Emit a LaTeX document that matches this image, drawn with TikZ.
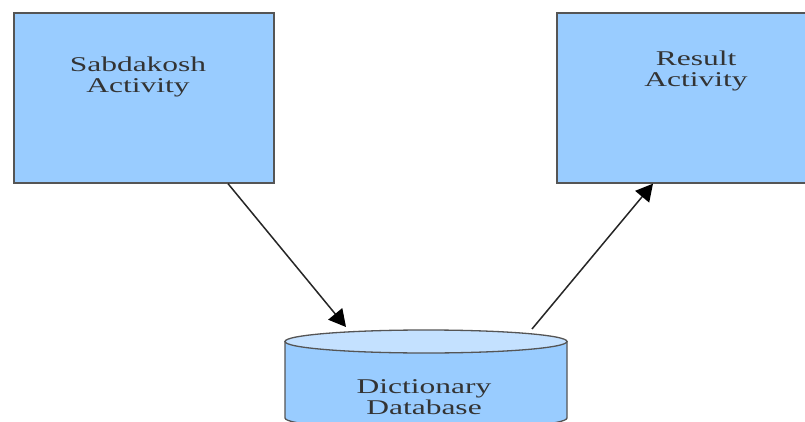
\documentclass[tikz,border=0pt]{standalone}
\usepackage{fontspec}
\usetikzlibrary{arrows.meta}
\newfontfamily\boxfont[FakeStretch=1.5]{Liberation Serif}
\definecolor{boxblue}{HTML}{99CCFF}
\definecolor{capblue}{HTML}{C4E1FF}
\definecolor{edgegray}{HTML}{555555}
\definecolor{textgray}{HTML}{333333}
\tikzset{
    actbox/.style={draw=edgegray, line width=1.3pt, fill=boxblue, minimum width=260pt, minimum height=170pt},
    dbpart/.style={draw=edgegray, line width=1.3pt, fill=boxblue},
    lbl/.style={font=\boxfont\fontsize{21}{21.5}\selectfont, text=textgray, align=center, inner sep=0pt},
    flow/.style={draw=black!85, line width=1.5pt, -{Triangle[length=17pt,width=18pt,color=black]}}
}
\begin{document}
\begin{tikzpicture}[x=1pt,y=1pt]
        \clip (0,0) rectangle (805,421);
        \fill[white] (0,0) rectangle (805,421);

        \node[actbox] (sab) at (144,323) {};
        \node[lbl] (sabtxt) at (138,344) {Sabdakosh\\Activity};

        \node[actbox] (res) at (687,323) {};
        \node[lbl] (restxt) at (696,350) {Result\\Activity};

        \filldraw[dbpart] (285,79.5) -- (285,3) arc[start angle=180, end angle=360, x radius=141, y radius=11.5] -- (567,79.5) -- cycle;
        \filldraw[dbpart, fill=capblue] (426,79.5) ellipse[x radius=141, y radius=11.5];
        \coordinate (dbtop) at (426,91);
        \node[lbl] (db) at (424,24) {Dictionary\\Database};

        \draw[flow] ([xshift=84pt]sab.south) -- ([xshift=-80pt,yshift=3pt]dbtop);
        \draw[flow] ([xshift=106pt,yshift=1pt]dbtop) -- ([xshift=-34pt]res.south);
    \end{tikzpicture}
\end{document}
